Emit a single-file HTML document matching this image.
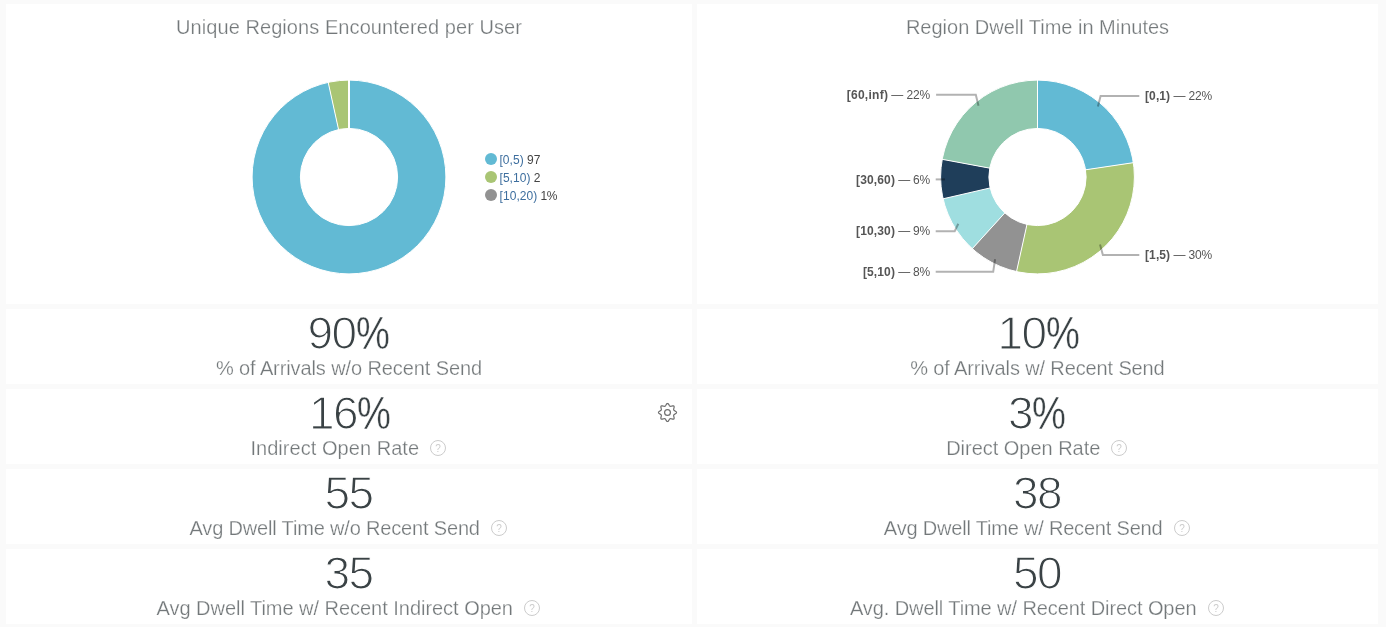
<!DOCTYPE html>
<html lang="en">
<head>
<meta charset="utf-8">
<title>Region Analytics Dashboard</title>
<style>
html,body{margin:0;padding:0}
body{width:1386px;height:627px;overflow:hidden;background:#fafafa;position:relative;font-family:"Liberation Sans",sans-serif}
.card{position:absolute;background:#ffffff;overflow:hidden}
.t{position:absolute;left:0;width:100%;text-align:center;white-space:nowrap;font-weight:normal;-webkit-text-stroke:0.25px #ffffff}
.title{font-size:20px;line-height:24px;color:#73787a}
.val{font-size:46px;line-height:44px;color:#3a4245;-webkit-text-stroke:1.25px #ffffff}
.val .pc{display:inline-block;text-align:left;transform-origin:0 50%;-webkit-text-stroke-width:0.4px}
.sub{font-size:20px;line-height:24px;color:#73787a}
.sub i{display:inline-block;vertical-align:top;width:16px;height:16px;margin:4px 1.5px 0 11px;position:relative;font-style:normal;-webkit-text-stroke:0}
.sub i svg{display:block}
svg{position:absolute;left:0;top:0;overflow:visible}
svg text{font-family:"Liberation Sans",sans-serif;-webkit-text-stroke:0}
.gear{position:absolute}
</style>
</head>
<body>
<div class="card" style="left:6px;top:4px;width:686px;height:300px">
<div class="t title" style="top:11px"><span style="letter-spacing:0.071px;margin-right:-0.071px">Unique Regions Encountered per User</span></div>
<svg width="686" height="300" viewBox="0 0 686 300">
<path d="M343.00 76.10A96.9 96.9 0 1 1 322.19 78.36L332.56 125.53A48.6 48.6 0 1 0 343.00 124.40Z" fill="#62bad4"/>
<path d="M322.19 78.36A96.9 96.9 0 0 1 343.00 76.10L343.00 124.40A48.6 48.6 0 0 0 332.56 125.53Z" fill="#a9c574"/>
<line x1="332.78" y1="126.51" x2="321.98" y2="77.38" stroke="#ffffff" stroke-width="1"/>
<line x1="343.00" y1="125.40" x2="343.00" y2="75.10" stroke="#ffffff" stroke-width="2"/>
<circle cx="343" cy="173" r="96.9" fill="none" stroke="#ffffff" stroke-width="1"/>
<circle cx="343" cy="173" r="48.6" fill="none" stroke="#ffffff" stroke-width="1"/>
<circle cx="485" cy="155" r="6" fill="#62bad4"/>
<text x="493.5" y="160" font-size="12" fill="#444444" xml:space="preserve"><tspan fill="#3d6e9e" letter-spacing="0.03">[0,5)</tspan><tspan letter-spacing="0.053"> 97</tspan></text>
<circle cx="485" cy="173" r="6" fill="#a9c574"/>
<text x="493.5" y="178" font-size="12" fill="#444444" xml:space="preserve"><tspan fill="#3d6e9e" letter-spacing="0.057">[5,10)</tspan><tspan letter-spacing="-0.015"> 2</tspan></text>
<circle cx="485" cy="191" r="6" fill="#929292"/>
<text x="493.5" y="196" font-size="12" fill="#444444" xml:space="preserve"><tspan fill="#3d6e9e" letter-spacing="0.075">[10,20)</tspan><tspan letter-spacing="-0.274"> 1%</tspan></text>
</svg>
</div>
<div class="card" style="left:697px;top:4px;width:681px;height:300px">
<div class="t title" style="top:11px"><span style="letter-spacing:-0.012px;margin-right:0.012px">Region Dwell Time in Minutes</span></div>
<svg width="681" height="300" viewBox="0 0 681 300">
<path d="M340.50 76.10A96.9 96.9 0 0 1 436.34 158.68L388.57 165.82A48.6 48.6 0 0 0 340.50 124.40Z" fill="#62bad4"/>
<path d="M436.34 158.68A96.9 96.9 0 0 1 319.53 267.60L329.98 220.45A48.6 48.6 0 0 0 388.57 165.82Z" fill="#a9c574"/>
<path d="M319.53 267.60A96.9 96.9 0 0 1 275.29 244.67L307.79 208.95A48.6 48.6 0 0 0 329.98 220.45Z" fill="#929292"/>
<path d="M275.29 244.67A96.9 96.9 0 0 1 246.08 194.80L293.15 183.93A48.6 48.6 0 0 0 307.79 208.95Z" fill="#9fdee0"/>
<path d="M246.08 194.80A96.9 96.9 0 0 1 245.22 155.34L292.71 164.14A48.6 48.6 0 0 0 293.15 183.93Z" fill="#1f3e5a"/>
<path d="M245.22 155.34A96.9 96.9 0 0 1 340.50 76.10L340.50 124.40A48.6 48.6 0 0 0 292.71 164.14Z" fill="#90c8ae"/>
<line x1="387.58" y1="165.96" x2="437.32" y2="158.53" stroke="#ffffff" stroke-width="1"/>
<line x1="330.20" y1="219.47" x2="319.31" y2="268.58" stroke="#ffffff" stroke-width="1"/>
<line x1="308.46" y1="208.21" x2="274.61" y2="245.41" stroke="#ffffff" stroke-width="1"/>
<line x1="294.12" y1="183.71" x2="245.11" y2="195.02" stroke="#ffffff" stroke-width="1"/>
<line x1="293.70" y1="164.33" x2="244.24" y2="155.16" stroke="#ffffff" stroke-width="1"/>
<line x1="340.50" y1="125.40" x2="340.50" y2="75.10" stroke="#ffffff" stroke-width="1"/>
<circle cx="340.5" cy="173" r="96.9" fill="none" stroke="#ffffff" stroke-width="1"/>
<circle cx="340.5" cy="173" r="48.6" fill="none" stroke="#ffffff" stroke-width="1"/>
<polyline points="442.3,91.9 403.6,91.9 400.9,102.6" fill="none" stroke="#000000" stroke-width="2" stroke-opacity="0.3"/>
<text x="448" y="96" font-size="12" fill="#555555" xml:space="preserve"><tspan font-weight="bold" fill="#555555" letter-spacing="0.109">[0,1)</tspan><tspan letter-spacing="-0.142"> — 22%</tspan></text>
<polyline points="442.3,251.1 405.9,251.1 403,240.6" fill="none" stroke="#000000" stroke-width="2" stroke-opacity="0.3"/>
<text x="448" y="255" font-size="12" fill="#555555" xml:space="preserve"><tspan font-weight="bold" fill="#555555" letter-spacing="0.109">[1,5)</tspan><tspan letter-spacing="-0.142"> — 30%</tspan></text>
<polyline points="238.7,267.8 296.2,267.8 298.1,255.1" fill="none" stroke="#000000" stroke-width="2" stroke-opacity="0.3"/>
<text x="165.956" y="271.7" font-size="12" fill="#555555" xml:space="preserve"><tspan font-weight="bold" fill="#555555" letter-spacing="0.12">[5,10)</tspan><tspan letter-spacing="-0.208"> — 8%</tspan></text>
<polyline points="238.7,227.2 257.7,227.2 261.3,219.7" fill="none" stroke="#000000" stroke-width="2" stroke-opacity="0.3"/>
<text x="159.106" y="230.8" font-size="12" fill="#555555" xml:space="preserve"><tspan font-weight="bold" fill="#555555" letter-spacing="0.128">[10,30)</tspan><tspan letter-spacing="-0.208"> — 9%</tspan></text>
<polyline points="238.7,175.4 248,175.4" fill="none" stroke="#000000" stroke-width="2" stroke-opacity="0.3"/>
<text x="159.106" y="180" font-size="12" fill="#555555" xml:space="preserve"><tspan font-weight="bold" fill="#555555" letter-spacing="0.128">[30,60)</tspan><tspan letter-spacing="-0.208"> — 6%</tspan></text>
<polyline points="239.1,90.8 278.8,90.8 281.5,101.8" fill="none" stroke="#000000" stroke-width="2" stroke-opacity="0.3"/>
<text x="149.749" y="95" font-size="12" fill="#555555" xml:space="preserve"><tspan font-weight="bold" fill="#555555" letter-spacing="0.26">[60,inf)</tspan><tspan letter-spacing="-0.142"> — 22%</tspan></text>
</svg>
</div>
<div class="card" style="left:6px;top:309px;width:686px;height:75px">
<div class="t val" style="top:1.5px;left:-0.5px"><span style="letter-spacing:-1.6px">90</span><span class="pc" style="width:33.906px;transform:scaleX(0.829)">%</span></div>
<div class="t sub" style="top:47px"><span style="letter-spacing:-0.102px;margin-right:0.102px">% of Arrivals w/o Recent Send</span></div>
</div>
<div class="card" style="left:6px;top:389px;width:686px;height:75px">
<div class="t val" style="top:1.5px;left:1px"><span style="letter-spacing:-1.6px">16</span><span class="pc" style="width:33.906px;transform:scaleX(0.829)">%</span></div>
<div class="t sub" style="top:47px"><span style="letter-spacing:0.049px;margin-right:-0.049px">Indirect Open Rate</span><i><svg width="16" height="16" viewBox="0 0 16 16"><circle cx="8" cy="8" r="7.5" fill="none" stroke="#cccccc" stroke-width="1"/><text x="8" y="11.5" text-anchor="middle" font-size="10" fill="#cccccc">?</text></svg></i></div>
<svg class="gear" style="left:651px;top:13px" width="21" height="21" viewBox="0 0 21 21"><path d="M10.50 1.46L11.08 1.68L11.59 2.24L12.00 2.93L12.36 3.56L12.70 4.02L13.08 4.28L13.53 4.36L14.09 4.28L14.79 4.09L15.57 3.89L16.33 3.85L16.89 4.11L17.15 4.67L17.11 5.43L16.91 6.21L16.72 6.91L16.64 7.47L16.72 7.92L16.98 8.30L17.44 8.64L18.07 9.00L18.76 9.41L19.32 9.92L19.54 10.50L19.32 11.08L18.76 11.59L18.07 12.00L17.44 12.36L16.98 12.70L16.72 13.08L16.64 13.53L16.72 14.09L16.91 14.79L17.11 15.57L17.15 16.33L16.89 16.89L16.33 17.15L15.57 17.11L14.79 16.91L14.09 16.72L13.53 16.64L13.08 16.72L12.70 16.98L12.36 17.44L12.00 18.07L11.59 18.76L11.08 19.32L10.50 19.54L9.92 19.32L9.41 18.76L9.00 18.07L8.64 17.44L8.30 16.98L7.92 16.72L7.47 16.64L6.91 16.72L6.21 16.91L5.43 17.11L4.67 17.15L4.11 16.89L3.85 16.33L3.89 15.57L4.09 14.79L4.28 14.09L4.36 13.53L4.28 13.08L4.02 12.70L3.56 12.36L2.93 12.00L2.24 11.59L1.68 11.08L1.46 10.50L1.68 9.92L2.24 9.41L2.93 9.00L3.56 8.64L4.02 8.30L4.28 7.92L4.36 7.47L4.28 6.91L4.09 6.21L3.89 5.43L3.85 4.67L4.11 4.11L4.67 3.85L5.43 3.89L6.21 4.09L6.91 4.28L7.47 4.36L7.92 4.28L8.30 4.02L8.64 3.56L9.00 2.93L9.41 2.24L9.92 1.68Z" fill="none" stroke="#6e6e6e" stroke-width="1.2" stroke-linejoin="round"/><circle cx="10.5" cy="10.5" r="2.9" fill="none" stroke="#6e6e6e" stroke-width="1.2"/></svg>
</div>
<div class="card" style="left:6px;top:469px;width:686px;height:75px">
<div class="t val" style="top:1.5px;left:-0.5px"><span style="letter-spacing:-1.6px">55</span></div>
<div class="t sub" style="top:47px"><span style="letter-spacing:-0.168px;margin-right:0.168px">Avg Dwell Time w/o Recent Send</span><i><svg width="16" height="16" viewBox="0 0 16 16"><circle cx="8" cy="8" r="7.5" fill="none" stroke="#cccccc" stroke-width="1"/><text x="8" y="11.5" text-anchor="middle" font-size="10" fill="#cccccc">?</text></svg></i></div>
</div>
<div class="card" style="left:6px;top:549px;width:686px;height:75px">
<div class="t val" style="top:1.5px;left:-0.5px"><span style="letter-spacing:-1.6px">35</span></div>
<div class="t sub" style="top:47px"><span style="letter-spacing:-0.031px;margin-right:0.031px">Avg Dwell Time w/ Recent Indirect Open</span><i><svg width="16" height="16" viewBox="0 0 16 16"><circle cx="8" cy="8" r="7.5" fill="none" stroke="#cccccc" stroke-width="1"/><text x="8" y="11.5" text-anchor="middle" font-size="10" fill="#cccccc">?</text></svg></i></div>
</div>
<div class="card" style="left:697px;top:309px;width:681px;height:75px">
<div class="t val" style="top:1.5px;left:1px"><span style="letter-spacing:-1.6px">10</span><span class="pc" style="width:33.906px;transform:scaleX(0.829)">%</span></div>
<div class="t sub" style="top:47px"><span style="letter-spacing:-0.128px;margin-right:0.128px">% of Arrivals w/ Recent Send</span></div>
</div>
<div class="card" style="left:697px;top:389px;width:681px;height:75px">
<div class="t val" style="top:1.5px;left:-0.5px"><span style="letter-spacing:-1.6px">3</span><span class="pc" style="width:33.906px;transform:scaleX(0.829)">%</span></div>
<div class="t sub" style="top:47px"><span style="letter-spacing:-0.023px;margin-right:0.023px">Direct Open Rate</span><i><svg width="16" height="16" viewBox="0 0 16 16"><circle cx="8" cy="8" r="7.5" fill="none" stroke="#cccccc" stroke-width="1"/><text x="8" y="11.5" text-anchor="middle" font-size="10" fill="#cccccc">?</text></svg></i></div>
</div>
<div class="card" style="left:697px;top:469px;width:681px;height:75px">
<div class="t val" style="top:1.5px;left:-0.5px"><span style="letter-spacing:-1.6px">38</span></div>
<div class="t sub" style="top:47px"><span style="letter-spacing:-0.194px;margin-right:0.194px">Avg Dwell Time w/ Recent Send</span><i><svg width="16" height="16" viewBox="0 0 16 16"><circle cx="8" cy="8" r="7.5" fill="none" stroke="#cccccc" stroke-width="1"/><text x="8" y="11.5" text-anchor="middle" font-size="10" fill="#cccccc">?</text></svg></i></div>
</div>
<div class="card" style="left:697px;top:549px;width:681px;height:75px">
<div class="t val" style="top:1.5px;left:-0.5px"><span style="letter-spacing:-1.6px">50</span></div>
<div class="t sub" style="top:47px"><span style="letter-spacing:-0.088px;margin-right:0.088px">Avg. Dwell Time w/ Recent Direct Open</span><i><svg width="16" height="16" viewBox="0 0 16 16"><circle cx="8" cy="8" r="7.5" fill="none" stroke="#cccccc" stroke-width="1"/><text x="8" y="11.5" text-anchor="middle" font-size="10" fill="#cccccc">?</text></svg></i></div>
</div>
</body>
</html>
